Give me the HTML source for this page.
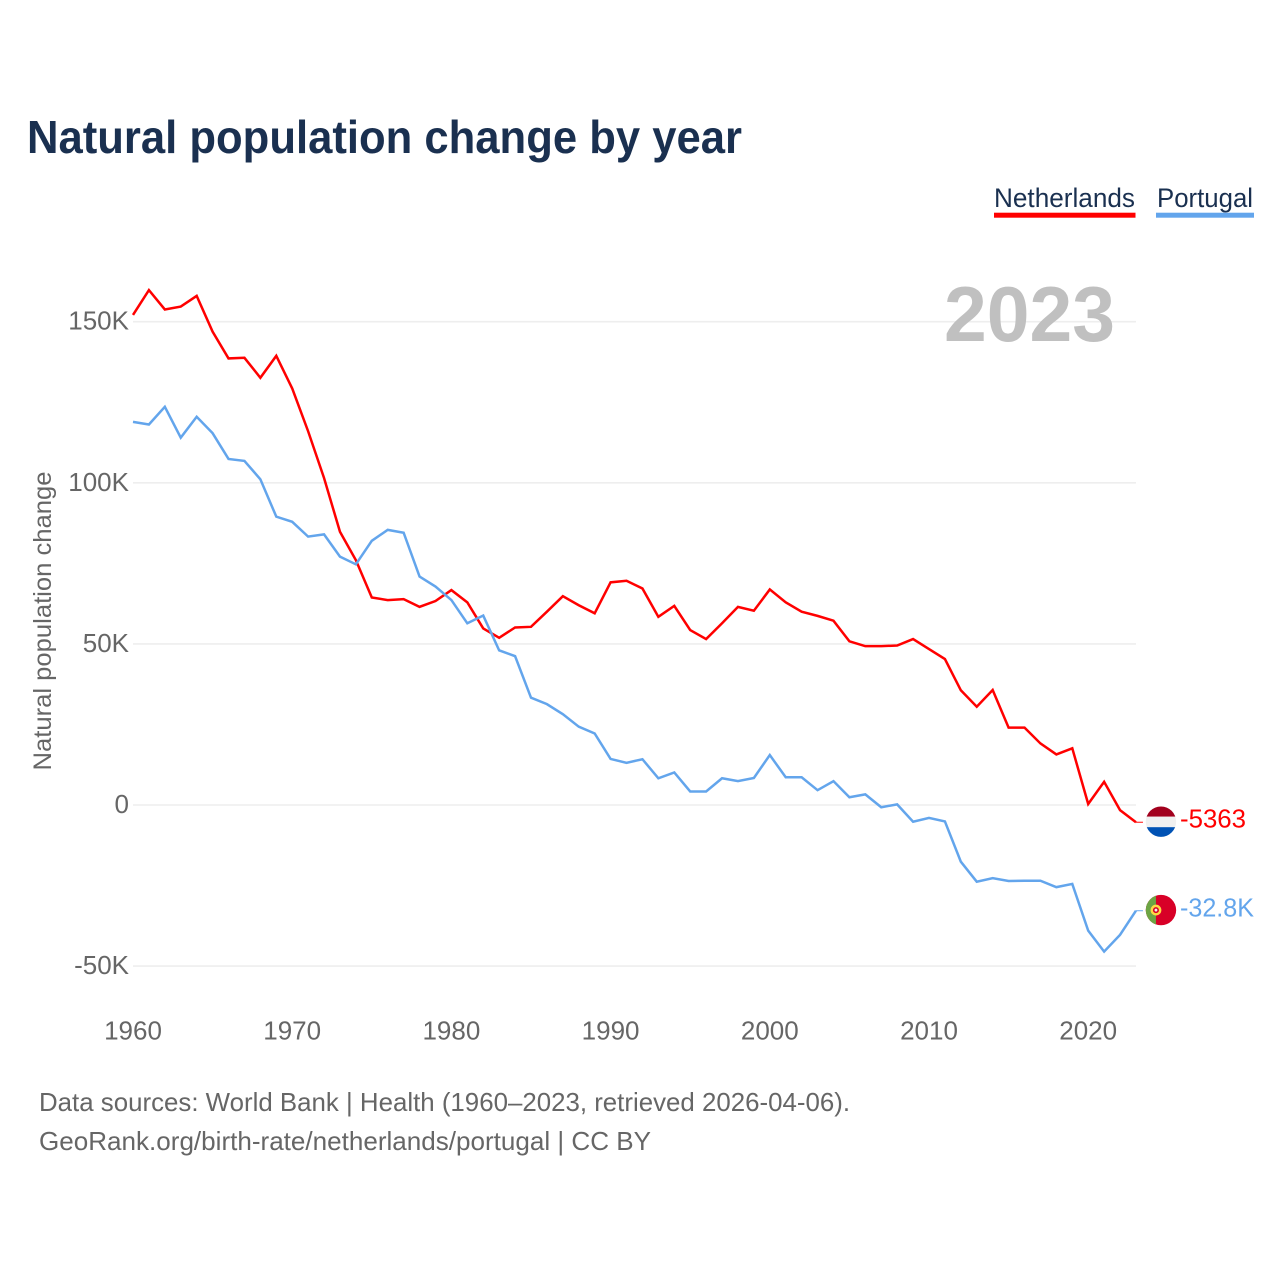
<!DOCTYPE html>
<html lang="en">
<head>
<meta charset="utf-8">
<title>Natural population change by year</title>
<style>
html,body{margin:0;padding:0;background:#fff;width:1280px;height:1280px;overflow:hidden}
svg{display:block}
text{font-family:"Liberation Sans",sans-serif}
</style>
</head>
<body>
<svg id="chart" width="1280" height="1280" viewBox="0 0 1280 1280" xmlns="http://www.w3.org/2000/svg">
  <text x="27" y="153" font-size="46" font-weight="700" fill="#1a3050" textLength="715" lengthAdjust="spacingAndGlyphs">Natural population change by year</text>

  <g>
    <text x="994" y="207" font-size="26.5" fill="#1a3050" textLength="141" lengthAdjust="spacingAndGlyphs">Netherlands</text>
    <rect x="994" y="212.7" width="141.5" height="5" fill="#ff0000"/>
  </g>
  <g>
    <text x="1157" y="207" font-size="26.5" fill="#1a3050" textLength="96" lengthAdjust="spacingAndGlyphs">Portugal</text>
    <rect x="1156" y="212.7" width="98" height="5" fill="#63a5ec"/>
  </g>

  <g id="grid"></g>
  <text x="944" y="341" font-size="78" font-weight="700" fill="#c0c0c0" textLength="171" lengthAdjust="spacingAndGlyphs">2023</text>
  <g id="yTicks"></g>
  <g id="xTicks"></g>
  <text transform="translate(51,621) rotate(-90)" text-anchor="middle" font-size="25" fill="#666666" textLength="299" lengthAdjust="spacingAndGlyphs">Natural population change</text>

  <g id="series"></g>

  <defs>
    <clipPath id="clipNl"><circle cx="0" cy="0" r="15.2"/></clipPath>
    <clipPath id="clipPt"><circle cx="0" cy="0" r="15.2"/></clipPath>
  </defs>
  <g id="flagNl">
    <g clip-path="url(#clipNl)">
      <rect x="-16" y="-16" width="32" height="11" fill="#a2001d"/>
      <rect x="-16" y="-5" width="32" height="10.5" fill="#f0f0f0"/>
      <rect x="-16" y="5.5" width="32" height="11" fill="#0052b4"/>
    </g>
  </g>
  <g id="flagPt">
    <g clip-path="url(#clipPt)">
      <rect x="-16" y="-16" width="32" height="32" fill="#d80027"/>
      <rect x="-16" y="-16" width="11" height="32" fill="#6da544"/>
      <circle cx="-5" cy="0" r="5.4" fill="#ffda44"/>
      <circle cx="-5" cy="0" r="3" fill="#d80027"/>
      <circle cx="-5" cy="0" r="1.4" fill="#f0f0f0"/>
    </g>
  </g>
  <g id="endLabels"></g>

  <text x="39" y="1111" font-size="26" fill="#666666" textLength="811" lengthAdjust="spacingAndGlyphs">Data sources: World Bank | Health (1960–2023, retrieved 2026-04-06).</text>
  <text x="39" y="1150" font-size="26" fill="#666666" textLength="612" lengthAdjust="spacingAndGlyphs">GeoRank.org/birth-rate/netherlands/portugal | CC BY</text>
</svg>

<script>
const startYear = 1960;
const xTickYears = [1960, 1970, 1980, 1990, 2000, 2010, 2020];
const yTickValues = [150, 100, 50, 0, -50];
const yTickLabels = ["150K", "100K", "50K", "0", "-50K"];
const netherlandsValues = [
  152.1, 159.8, 153.8, 154.7, 158, 146.9, 138.6, 138.8, 132.6, 139.4,
  129.3, 116.0, 101.5, 84.8, 76, 64.4, 63.6, 63.9, 61.5, 63.3,
  66.7, 62.9, 54.8, 51.9, 55.1, 55.3, 60, 64.8, 62, 59.5,
  69.1, 69.6, 67.2, 58.4, 61.8, 54.3, 51.5, 56.4, 61.5, 60.3,
  66.9, 62.9, 60, 58.7, 57.2, 50.8, 49.3, 49.3, 49.5, 51.5,
  48.4, 45.3, 35.6, 30.5, 35.7, 24, 24, 19.1, 15.7, 17.6,
  0.3, 7.2, -1.6, -5.363
];
const portugalValues = [
  118.9, 118.1, 123.6, 114, 120.5, 115.4, 107.4, 106.8, 101.1, 89.5,
  87.9, 83.3, 84, 77.1, 74.7, 82, 85.4, 84.5, 70.9, 67.8,
  63.6, 56.4, 58.8, 48, 46.2, 33.3, 31.3, 28.2, 24.3, 22.2,
  14.3, 13.1, 14.2, 8.3, 10.1, 4.2, 4.2, 8.3, 7.4, 8.4,
  15.5, 8.6, 8.6, 4.6, 7.4, 2.4, 3.3, -0.7, 0.2, -5.2,
  -4, -5.1, -17.6, -23.8, -22.7, -23.6, -23.5, -23.5, -25.5, -24.5,
  -39, -45.5, -40.3, -32.8
];
const endLabelNetherlands = "-5363";
const endLabelPortugal = "-32.8K";

const NS = "http://www.w3.org/2000/svg";
function xScale(year) { return 133 + (year - startYear) * 15.92; }
function yScale(v) { return 805 - v * 3.222; }
function make(tag, attrs, parent) {
  const el = document.createElementNS(NS, tag);
  for (const k in attrs) el.setAttribute(k, attrs[k]);
  parent.appendChild(el);
  return el;
}

const gridGroup = document.getElementById("grid");
const yTickGroup = document.getElementById("yTicks");
const xTickGroup = document.getElementById("xTicks");
const seriesGroup = document.getElementById("series");
const labelGroup = document.getElementById("endLabels");
const lastYear = startYear + netherlandsValues.length - 1;

yTickValues.forEach(function (v, i) {
  const line = make("line", { x1: xScale(startYear), x2: xScale(lastYear), y1: yScale(v), y2: yScale(v), stroke: "#eeeeee", "stroke-width": 1.6 }, gridGroup);
  
  
  const t = make("text", { x: 129, y: yScale(v) + 8, "text-anchor": "end", "font-size": 26, fill: "#666666" }, yTickGroup);
  
  
  t.textContent = yTickLabels[i];
});

xTickYears.forEach(function (year) {
  const t = make("text", { x: xScale(year), y: 1039.5, "text-anchor": "middle", "font-size": 26, fill: "#666666" }, xTickGroup);
  
  
  t.textContent = String(year);
});

function pathFor(values) {
  return values.map(function (v, i) {
    return (i ? "L" : "M") + xScale(startYear + i).toFixed(2) + " " + yScale(v).toFixed(2);
  }).join(" ");
}

const lineNl = make("path", { d: pathFor(netherlandsValues), fill: "none", stroke: "#ff0000", "stroke-width": 2.5, "stroke-linejoin": "miter" }, seriesGroup);


const linePt = make("path", { d: pathFor(portugalValues), fill: "none", stroke: "#63a5ec", "stroke-width": 2.5, "stroke-linejoin": "miter" }, seriesGroup);



const lastNl = yScale(netherlandsValues[netherlandsValues.length - 1]);
const lastPt = yScale(portugalValues[portugalValues.length - 1]);
const lastX = xScale(lastYear);

const connNl = make("line", { x1: lastX, x2: lastX + 7, y1: lastNl, y2: lastNl, stroke: "#ff0000", "stroke-width": 1.2, opacity: 0.8 }, seriesGroup);


const connPt = make("line", { x1: lastX, x2: lastX + 7, y1: lastPt, y2: lastPt, stroke: "#63a5ec", "stroke-width": 1.2, opacity: 0.8 }, seriesGroup);



document.getElementById("flagNl").setAttribute("transform", "translate(" + (lastX + 25) + "," + (lastNl - 0.6) + ")");
document.getElementById("flagPt").setAttribute("transform", "translate(" + (lastX + 25) + "," + (lastPt - 0.6) + ")");

const valNl = make("text", { x: 1180, y: lastNl + 5, "font-size": 26, fill: "#ff0000", textLength: 66, lengthAdjust: "spacingAndGlyphs" }, labelGroup);


valNl.textContent = endLabelNetherlands;
const valPt = make("text", { x: 1180, y: lastPt + 6, "font-size": 26, fill: "#63a5ec", textLength: 74, lengthAdjust: "spacingAndGlyphs" }, labelGroup);


valPt.textContent = endLabelPortugal;
</script>
</body>
</html>
